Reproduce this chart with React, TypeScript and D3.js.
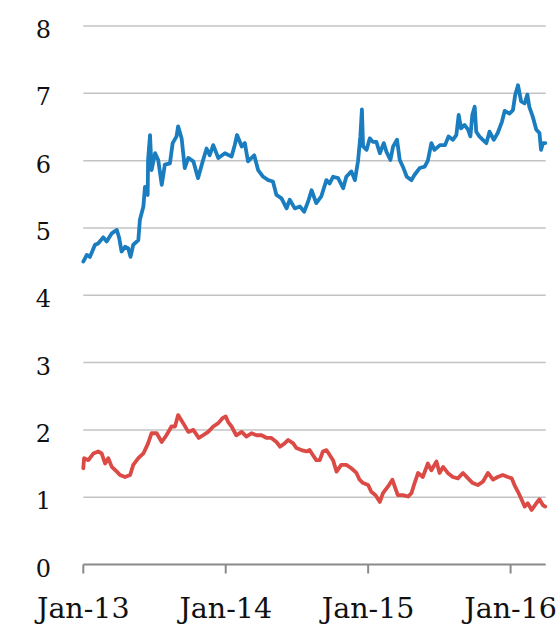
import React, { useEffect, useRef } from "react";
import * as d3 from "d3";

// days since 1 Jan 2013
const blueDays = [0, 9, 17, 30, 38, 51, 60, 73, 86, 92, 98, 107, 115, 121, 128, 141, 145, 154, 158, 165, 166, 171, 175, 184, 192, 201, 209, 222, 229, 239, 243, 252, 260, 269, 282, 294, 307, 316, 324, 333, 346, 363, 380, 388, 394, 406, 414, 422, 438, 448, 461, 474, 486, 495, 508, 521, 529, 542, 555, 566, 576, 585, 597, 610, 623, 631, 640, 653, 666, 674, 687, 696, 704, 710, 714, 717, 726, 734, 742, 751, 760, 770, 777, 787, 794, 804, 811, 819, 829, 841, 849, 862, 875, 883, 892, 900, 914, 927, 936, 947, 956, 962, 968, 977, 986, 992, 997, 1003, 1007, 1015, 1024, 1033, 1041, 1052, 1062, 1073, 1080, 1092, 1101, 1107, 1114, 1122, 1131, 1138, 1143, 1152, 1161, 1169, 1173, 1178, 1184];
const blueVals = [4.5, 4.6, 4.57, 4.75, 4.77, 4.86, 4.8, 4.92, 4.97, 4.85, 4.65, 4.72, 4.7, 4.57, 4.75, 4.82, 5.12, 5.32, 5.61, 5.49, 6.01, 6.38, 5.86, 6.11, 6.01, 5.64, 5.94, 5.96, 6.26, 6.36, 6.51, 6.33, 5.89, 6.04, 5.99, 5.74, 6.01, 6.18, 6.08, 6.23, 6.04, 6.11, 6.06, 6.23, 6.38, 6.21, 6.26, 5.99, 6.08, 5.86, 5.76, 5.71, 5.69, 5.49, 5.44, 5.29, 5.42, 5.29, 5.32, 5.24, 5.39, 5.56, 5.37, 5.47, 5.71, 5.66, 5.76, 5.74, 5.59, 5.76, 5.84, 5.71, 5.99, 6.36, 6.76, 6.21, 6.16, 6.33, 6.28, 6.28, 6.11, 6.26, 6.13, 6.01, 6.21, 6.31, 6.01, 5.91, 5.76, 5.71, 5.79, 5.89, 5.91, 6.0, 6.26, 6.16, 6.23, 6.23, 6.36, 6.31, 6.38, 6.68, 6.48, 6.53, 6.46, 6.36, 6.68, 6.8, 6.43, 6.36, 6.31, 6.26, 6.43, 6.31, 6.41, 6.58, 6.74, 6.7, 6.75, 6.98, 7.12, 6.88, 6.85, 6.98, 6.8, 6.65, 6.46, 6.41, 6.16, 6.26, 6.26];

const redDays = [0, 2, 13, 26, 38, 47, 56, 64, 73, 86, 94, 107, 120, 128, 141, 154, 166, 175, 188, 201, 213, 226, 235, 243, 256, 269, 282, 296, 307, 320, 333, 346, 356, 365, 371, 380, 392, 406, 418, 431, 444, 457, 470, 482, 495, 504, 516, 525, 538, 546, 559, 572, 580, 589, 597, 606, 614, 623, 631, 640, 649, 661, 674, 687, 700, 708, 717, 730, 738, 749, 760, 768, 781, 792, 798, 806, 819, 832, 841, 849, 858, 870, 883, 892, 905, 913, 922, 934, 947, 960, 973, 986, 998, 1011, 1024, 1037, 1050, 1062, 1075, 1088, 1098, 1105, 1114, 1122, 1131, 1139, 1149, 1161, 1169, 1178, 1184];
const redVals = [1.43, 1.58, 1.55, 1.65, 1.68, 1.65, 1.5, 1.58, 1.45, 1.38, 1.33, 1.3, 1.33, 1.48, 1.58, 1.65, 1.8, 1.95, 1.95, 1.82, 1.92, 2.05, 2.05, 2.22, 2.1, 1.97, 2.0, 1.88, 1.92, 1.97, 2.05, 2.1, 2.17, 2.2, 2.12, 2.05, 1.92, 1.97, 1.9, 1.95, 1.92, 1.92, 1.88, 1.88, 1.82, 1.75, 1.8, 1.85, 1.8, 1.73, 1.7, 1.68, 1.7, 1.62, 1.55, 1.55, 1.68, 1.7, 1.63, 1.55, 1.38, 1.48, 1.48, 1.43, 1.36, 1.26, 1.21, 1.18, 1.08, 1.03, 0.93, 1.06, 1.16, 1.26, 1.16, 1.03, 1.03, 1.01, 1.06, 1.21, 1.36, 1.3, 1.5, 1.4, 1.53, 1.36, 1.45, 1.36, 1.3, 1.28, 1.36, 1.28, 1.21, 1.18, 1.23, 1.36, 1.26, 1.3, 1.33, 1.3, 1.28, 1.18, 1.08, 0.98, 0.86, 0.91, 0.81, 0.91, 0.97, 0.88, 0.86];

const yTicks = [0, 1, 2, 3, 4, 5, 6, 7, 8];
const xTickLabels = ["Jan-13", "Jan-14", "Jan-15", "Jan-16"];
const xTickYears = [2013, 2014, 2015, 2016];

const W = 560;
const H = 629;
const start = new Date(2013, 0, 1);
const FONT = '"DejaVu Serif", "Noto Serif", serif';

export default function App() {
	const svgRef = useRef<SVGSVGElement>(null);

	useEffect(() => {
		const svg = d3.select(svgRef.current);
		svg.selectAll("*").remove();

		const x = d3
			.scaleTime()
			.domain([start, new Date(2016, 2, 31)])
			.range([83.3, 545.7]);
		const y = d3.scaleLinear().domain([0, 8]).range([564.5, 26]);

		// gridlines
		svg
			.append("g")
			.selectAll("line")
			.data(yTicks.filter((t) => t > 0))
			.join("line")
			.attr("x1", x.range()[0])
			.attr("x2", x.range()[1])
			.attr("y1", (d) => y(d))
			.attr("y2", (d) => y(d))
			.attr("stroke", "#c3c3c3")
			.attr("stroke-width", 1.5);

		// y labels
		svg
			.append("g")
			.selectAll("text")
			.data(yTicks)
			.join("text")
			.attr("x", 51)
			.attr("y", (d) => y(d) + 12)
			.attr("text-anchor", "end")
			.style("font-family", FONT)
			.attr("font-size", 24)
			.attr("fill", "#111")
			.text((d) => d);

		// lines
		const line = d3
			.line<[number, number]>()
			.x((d) => x(d3.timeDay.offset(start, d[0])))
			.y((d) => y(d[1]));

		const series = [
			{ days: redDays, vals: redVals, color: "#db4a45" },
			{ days: blueDays, vals: blueVals, color: "#1a7dbf" },
		];
		series.forEach((s) => {
			svg
				.append("path")
				.attr("d", line(s.days.map((d, i) => [d, s.vals[i]] as [number, number])))
				.attr("fill", "none")
				.attr("stroke", s.color)
				.attr("stroke-width", 3.8)
				.attr("stroke-linejoin", "round")
				.attr("stroke-linecap", "round");
		});

		// x axis
		svg
			.append("line")
			.attr("x1", x.range()[0])
			.attr("x2", x.range()[1])
			.attr("y1", y(0))
			.attr("y2", y(0))
			.attr("stroke", "#8a8a8a")
			.attr("stroke-width", 2);

		const xg = svg.append("g");
		xg.selectAll("line")
			.data(xTickYears)
			.join("line")
			.attr("x1", (d) => x(new Date(d, 0, 1)))
			.attr("x2", (d) => x(new Date(d, 0, 1)))
			.attr("y1", y(0))
			.attr("y2", y(0) + 9)
			.attr("stroke", "#8a8a8a")
			.attr("stroke-width", 2);
		xg.selectAll("text")
			.data(xTickYears)
			.join("text")
			.attr("x", (d) => x(new Date(d, 0, 1)))
			.attr("y", 617.5)
			.attr("text-anchor", "middle")
			.style("font-family", FONT)
			.attr("font-size", 28.5)
			.attr("fill", "#111")
			.text((d, i) => xTickLabels[i]);
	}, []);

	return (
		<svg
			ref={svgRef}
			width={W}
			height={H}
			style={{ position: "absolute", left: 0, top: 0, background: "#fff" }}
		></svg>
	);
}
